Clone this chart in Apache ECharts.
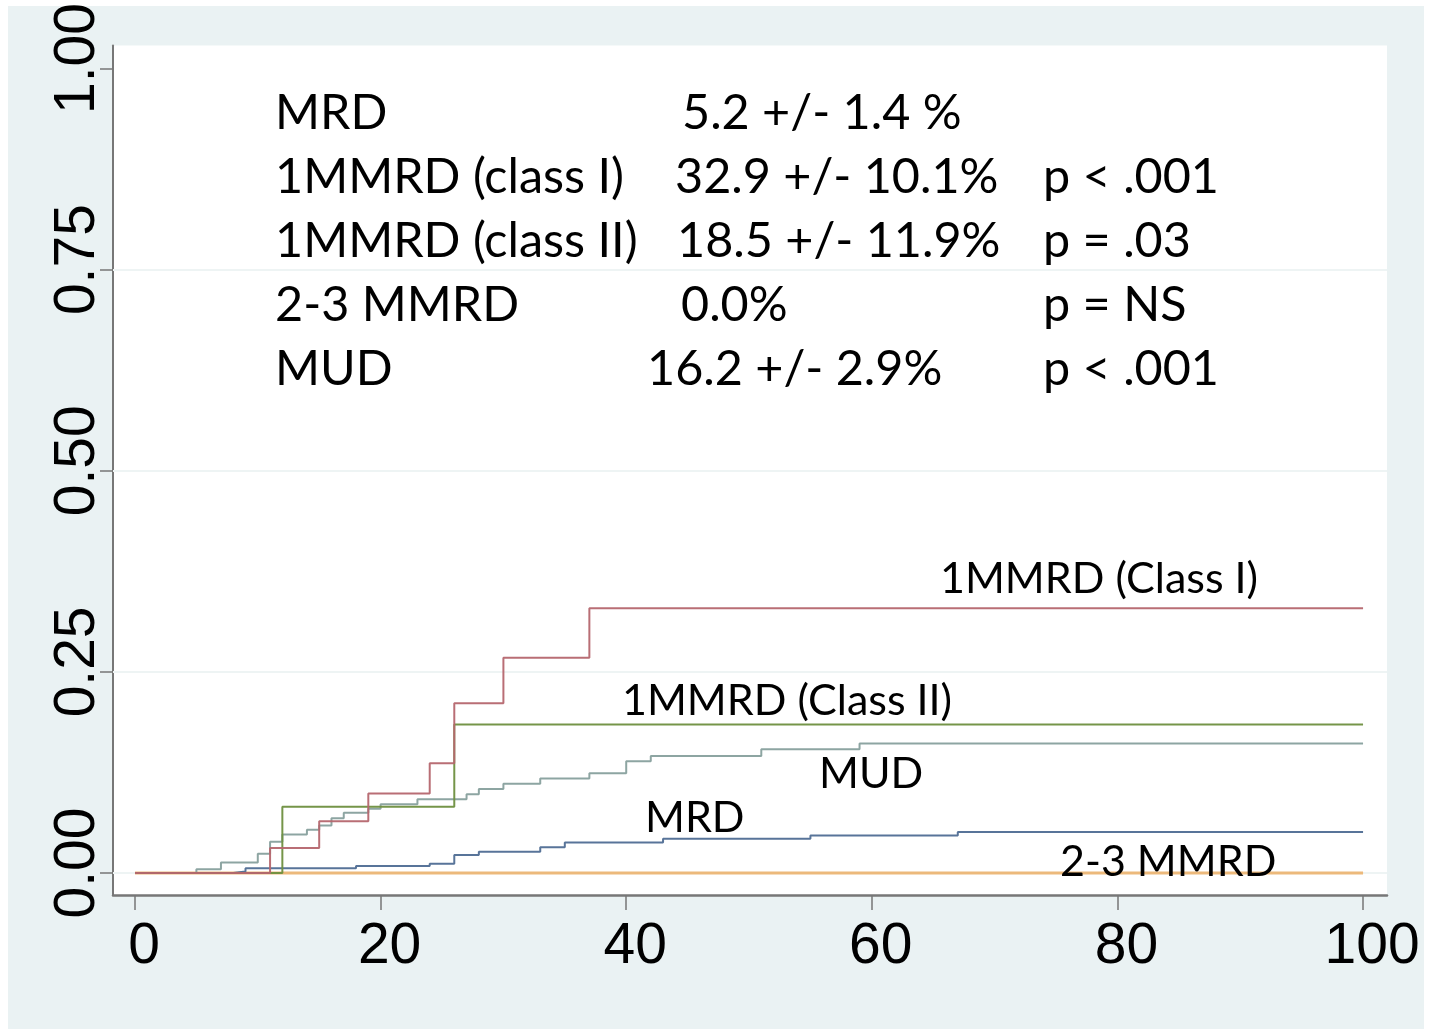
<!DOCTYPE html>
<html><head><meta charset="utf-8">
<script src="https://cdn.jsdelivr.net/npm/echarts@6/dist/echarts.min.js"></script>
<style>html,body{margin:0;padding:0;background:#fff;}#c{width:1429px;height:1032px;}</style>
</head><body><div id="c"></div>
<script>
// ---- data ----
const xTicks = [0, 20, 40, 60, 80, 100];
const yTicks = [0, 0.25, 0.5, 0.75, 1];
const yTickLabels = ['0.00', '0.25', '0.50', '0.75', '1.00'];
const gridValues = [0, 0.25, 0.5, 0.75];

const mmrd1T = [0, 11, 15, 19, 24, 26, 30, 37, 100];
const mmrd1V = [0, 0.031, 0.0645, 0.099, 0.1365, 0.211, 0.2676, 0.329, 0.329];

const mmrd2T = [0, 12, 26, 100];
const mmrd2V = [0, 0.0823, 0.1845, 0.1845];

const mudT = [0, 5, 7, 10, 11, 12, 14, 15, 16, 17, 19, 20, 23, 27, 28, 30, 33, 37, 40, 42, 51, 59, 100];
const mudV = [0, 0.0046, 0.0132, 0.024, 0.039, 0.048, 0.0538, 0.059, 0.068, 0.075, 0.080, 0.0856, 0.0918, 0.098, 0.1046, 0.111, 0.1175, 0.124, 0.139, 0.1456, 0.1538, 0.161, 0.161];

const mrdT = [0, 8, 9, 18, 24, 26, 28, 33, 35, 43, 55, 67, 100];
const mrdV = [0, 0.002, 0.006, 0.0087, 0.0116, 0.0223, 0.0264, 0.0319, 0.038, 0.0426, 0.0467, 0.051, 0.051];

const mmrd23T = [0, 100];
const mmrd23V = [0, 0];

const tableNames = ['MRD', '1MMRD (class I)', '1MMRD (class II)', '2-3 MMRD', 'MUD'];
const tableEstimates = ['5.2 +/- 1.4 %', '32.9 +/- 10.1%', '18.5 +/- 11.9%', '0.0%', '16.2 +/- 2.9%'];
const tablePvalues = ['', 'p < .001', 'p = .03', 'p = NS', 'p < .001'];

const curveLabels = ['1MMRD (Class I)', '1MMRD (Class II)', 'MUD', 'MRD', '2-3 MMRD'];

// ---- layout (positions only) ----
const tableBaselines = [131, 195, 259, 323, 387];
const estimateX = [682, 675, 677, 681, 647];
const nameX = 275, pX = 1043;
const curveLabelPos = [[940, 595], [622, 717], [819, 790], [645, 834], [1060, 878]];

function hasFont(f) {
  const c = document.createElement('canvas').getContext('2d');
  const s = '0123456789.MRDmwil';
  for (const g of ['monospace', 'serif']) {
    c.font = '60px ' + g; const w0 = c.measureText(s).width;
    c.font = '60px "' + f + '", ' + g;
    if (Math.abs(c.measureText(s).width - w0) > 0.5) return true;
  }
  return false;
}

const TFONT = 'Lato, "Noto Sans", sans-serif';
let AFONT = '"Liberation Sans", Arial, sans-serif', ASIZE = 57;
if (hasFont('Liberation Sans Narrow')) { AFONT = '"Liberation Sans Narrow", sans-serif'; ASIZE = 60; }
else if (hasFont('Arial Narrow')) { AFONT = '"Arial Narrow", sans-serif'; ASIZE = 60; }

const tableSize = 48.5, labelSize = 43;

function pairs(t, v) { return t.map((x, i) => [x, v[i]]); }

function txt(s, x, baseline, size) {
  return {
    type: 'text', z: 100,
    style: {
      text: s, x: x, y: baseline - size * 0.36,
      font: size + 'px ' + TFONT, fill: '#000',
      align: 'left', verticalAlign: 'middle'
    }
  };
}

const graphics = [
  { type: 'rect', z: -10, shape: { x: 8, y: 6, width: 1416, height: 1023 }, style: { fill: '#eaf2f3' } }
];
tableNames.forEach((n, i) => {
  graphics.push(txt(n, nameX, tableBaselines[i], tableSize));
  graphics.push(txt(tableEstimates[i], estimateX[i], tableBaselines[i], tableSize));
  if (tablePvalues[i]) graphics.push(txt(tablePvalues[i], pX, tableBaselines[i], tableSize));
});
curveLabels.forEach((n, i) => {
  graphics.push(txt(n, curveLabelPos[i][0], curveLabelPos[i][1], labelSize));
});

function stepSeries(name, t, v, color, width, z) {
  return {
    name: name, type: 'line', step: 'end', data: pairs(t, v),
    symbol: 'none', z: z, silent: true,
    lineStyle: { color: color, width: width, opacity: 0.95 },
    animation: false
  };
}

const chart = echarts.init(document.getElementById('c'), null, { renderer: 'canvas' });
chart.setOption({
  backgroundColor: '#ffffff',
  animation: false,
  grid: {
    left: 113, right: 1429 - 1387, top: 43, bottom: 1032 - 895,
    show: true, backgroundColor: '#ffffff', borderWidth: 0, z: 0
  },
  xAxis: {
    type: 'value', min: -1.79, max: 101.95,
    axisLine: { show: true, onZero: false, lineStyle: { color: '#777', width: 2.5 } },
    axisTick: { show: true, length: 15, customValues: xTicks, lineStyle: { color: '#777', width: 1.5 } },
    axisLabel: { customValues: xTicks, margin: 24, fontFamily: AFONT, fontSize: ASIZE, color: '#000', padding: [0, 0, 0, 18] },
    splitLine: { show: false }
  },
  yAxis: {
    type: 'value', min: -0.0273, max: 1.0285,
    axisLine: { show: true, onZero: false, lineStyle: { color: '#777', width: 2 } },
    axisTick: { show: true, length: 13, customValues: yTicks, lineStyle: { color: '#777', width: 1.5 } },
    axisLabel: {
      customValues: yTicks, rotate: 90, margin: 6, fontFamily: AFONT, fontSize: ASIZE, color: '#000',
      padding: [0, 0, 0, 20],
      formatter: function (v) { const i = yTicks.indexOf(v); return i >= 0 ? yTickLabels[i] : v.toFixed(2); }
    },
    splitLine: { show: false }
  },
  series: [
    {
      name: 'grid', type: 'line', data: [], z: 1, silent: true,
      markLine: {
        silent: true, symbol: 'none', z: 1, animation: false,
        label: { show: false },
        lineStyle: { color: '#eef4f4', width: 2, type: 'solid' },
        data: gridValues.map(v => ({ yAxis: v }))
      }
    },
    stepSeries('2-3 MMRD', mmrd23T, mmrd23V, '#ebb574', 3, 2),
    stepSeries('MRD', mrdT, mrdV, '#4f6d93', 2, 3),
    stepSeries('MUD', mudT, mudV, '#87a09d', 2, 4),
    stepSeries('1MMRD (class II)', mmrd2T, mmrd2V, '#6e8f3f', 2, 5),
    stepSeries('1MMRD (class I)', mmrd1T, mmrd1V, '#b5666e', 2, 6)
  ],
  graphic: graphics
});
</script>
</body></html>
